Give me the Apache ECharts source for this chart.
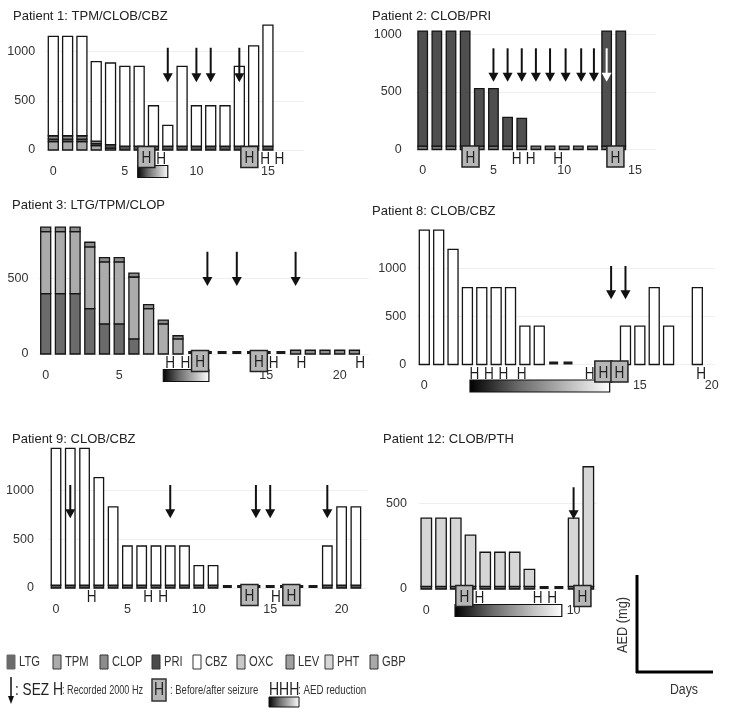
<!DOCTYPE html>
<html><head><meta charset="utf-8">
<script src="https://cdn.jsdelivr.net/npm/echarts@6/dist/echarts.min.js"></script>
<style>html,body{margin:0;padding:0;background:#fff}#c{width:729px;height:709px}</style>
</head><body><div id="c"></div>
<script>
// ================= DATA =================
// Patient 1
const P1_DAYS = [0,1,2,3,4,5,6,7,8,9,10,11,12,13,14,15];
const P1_TPM  = [85,85,85,45,20,null,null,null,null,null,null,null,null,null,null,null];
const P1_CLOB = [25,25,25,20,35,40,40,40,40,40,40,40,40,40,40,40];
const P1_TPM2 = [35,35,35,25,null,null,null,null,null,null,null,null,null,null,null,null];
const P1_CBZ  = [1010,1010,1010,810,830,810,810,410,210,810,410,410,410,810,1020,1230];
const P1_SEZ = [8,10,11,13];
const P1_SEZ_RANGE = [1040,690];
const P1_H = [7.53,14.8,15.8];
const P1_HBOX = [6.5,13.7];
const P1_RED = [5.9,8.0];
const P1_DASH = [];
const P1_XTICKS = [0,5,10,15];
const P1_YTICKS = [0,500,1000];

// Patient 2
const P2_DAYS = [0,1,2,3,4,5,6,7,8,9,10,11,12,13,14];
const P2_CLOB = [30,30,30,30,30,30,30,30,30,30,30,30,30,30,30];
const P2_PRI  = [1000,1000,1000,1000,500,500,250,240,null,null,null,null,null,1000,1000];
const P2_SEZ = [5,6,7,8,9,10.1,11.2,12.1];
const P2_SEZ_WHITE = [13];
const P2_SEZ_RANGE = [880,590];
const P2_H = [6.64,7.63,9.58];
const P2_HBOX = [3.38,13.62];
const P2_RED = [];
const P2_DASH = [];
const P2_XTICKS = [0,5,10,15];
const P2_YTICKS = [0,500,1000];

// Patient 3
const P3_DAYS = [0,1,2,3,4,5,6,7,8,9,10,11,12,13,14,15,16,17,18,19,20,21];
const P3_LTG  = [400,400,400,300,200,200,100,null,null,null,null,null,null,null,null,null,null,null,null,null,null,null];
const P3_TPM  = [410,410,410,410,410,410,410,300,200,100,null,null,null,null,null,null,null,null,null,null,null,null];
const P3_CLOP = [30,30,30,30,28,28,26,27,25,21,null,null,null,null,null,null,null,25,25,25,25,25];
const P3_SEZ = [11,13,17];
const P3_SEZ_RANGE = [677,450];
const P3_H = [8.46,9.5,15.5,17.4,21.4];
const P3_HBOX = [10.5,14.5];
const P3_RED = [8.0,11.1];
const P3_DASH = [10,11,12,13,14,15,16];
const P3_XTICKS = [0,5,10,15,20];
const P3_YTICKS = [0,500];

// Patient 8
const P8_DAYS = [0,1,2,3,4,5,6,7,8,9,10,11,12,13,14,15,16,17,18,19];
const P8_CBZ  = [1400,1400,1200,800,800,800,800,400,400,null,null,null,null,null,400,400,800,400,null,800];
const P8_SEZ = [13,14];
const P8_SEZ_RANGE = [1026,679];
const P8_H = [3.48,4.5,5.5,6.78,11.5,19.26];
const P8_HBOX = [12.46,13.58];
const P8_RED = [3.18,12.9];
const P8_DASH = [9,10];
const P8_XTICKS = [0,5,10,15,20];
const P8_YTICKS = [0,500,1000];

// Patient 9
const P9_DAYS = [0,1,2,3,4,5,6,7,8,9,10,11,12,13,14,15,16,17,18,19,20,21];
const P9_CLOB = [30,30,30,30,30,30,30,30,30,30,30,30,null,null,null,null,null,null,null,30,30,30];
const P9_CBZ  = [1400,1400,1400,1100,800,400,400,400,400,400,200,200,null,null,null,null,null,null,null,400,800,800];
const P9_SEZ = [1,8,14,15,19];
const P9_SEZ_RANGE = [1054,713];
const P9_H = [2.5,6.46,7.51,15.4];
const P9_HBOX = [13.55,16.48];
const P9_RED = [];
const P9_DASH = [12,13,14,15,16,17,18];
const P9_XTICKS = [0,5,10,15,20];
const P9_YTICKS = [0,500,1000];

// Patient 12
const P12_DAYS = [0,1,2,3,4,5,6,7,8,9,10,11];
const P12_CLOB = [15,15,15,15,15,15,15,15,null,null,15,15];
const P12_PHT  = [400,400,400,300,200,200,200,100,null,null,400,700];
const P12_SEZ = [10];
const P12_SEZ_RANGE = [595,408];
const P12_H = [3.6,7.56,8.55];
const P12_HBOX = [2.58,10.6];
const P12_RED = [1.95,9.2];
const P12_DASH = [8,9];
const P12_XTICKS = [0,5,10];
const P12_YTICKS = [0,500];

// Legend
const LEGEND_NAMES = ['LTG','TPM','CLOP','PRI','CBZ','OXC','LEV','PHT','GBP'];
const LEGEND_COLORS = ['#6b6b6b','#ababab','#8c8c8c','#4a4a4a','#ffffff','#c9c9c9','#a0a0a0','#d6d6d6','#a9a9a9'];
const LEGEND_X = [7,53,100,152,193,237,286,325,370];

// ================= STYLE / LAYOUT =================
const FONT = '"Liberation Sans", Arial, sans-serif';
const NX = 0.8; // horizontal condensing for the narrow lettering

const panels = [
  {title:'Patient 1: TPM/CLOB/CBZ', tx:8, ty:5, day0:53.3, ppd:14.31, xmin:-0.5, xmax:17.5, base:150, ppm:0.0983, ymax:1300, bw:10, ylm:11,
   days:P1_DAYS, segs:[[P1_TPM,'#a8a8a8'],[P1_CLOB,'#555555'],[P1_TPM2,'#8c8c8c'],[P1_CBZ,'#ffffff']],
   xt:P1_XTICKS, yt:P1_YTICKS, sez:P1_SEZ, sezW:[], sezR:P1_SEZ_RANGE, h:P1_H, box:P1_HBOX, red:P1_RED, dash:P1_DASH},
  {title:'Patient 2: CLOB/PRI', tx:367, ty:5, day0:422.7, ppd:14.15, xmin:-0.5, xmax:16.5, base:149.5, ppm:0.115, ymax:1150, bw:9.5, ylm:14,
   days:P2_DAYS, segs:[[P2_CLOB,'#7d7d7d'],[P2_PRI,'#4f4f4f']],
   xt:P2_XTICKS, yt:P2_YTICKS, sez:P2_SEZ, sezW:P2_SEZ_WHITE, sezR:P2_SEZ_RANGE, h:P2_H, box:P2_HBOX, red:P2_RED, dash:P2_DASH},
  {title:'Patient 3: LTG/TPM/CLOP', tx:7, ty:194, day0:45.7, ppd:14.7, xmin:-0.5, xmax:22, base:354, ppm:0.151, ymax:900, bw:10, ylm:10,
   days:P3_DAYS, segs:[[P3_LTG,'#6b6b6b'],[P3_TPM,'#ababab'],[P3_CLOP,'#8c8c8c']],
   xt:P3_XTICKS, yt:P3_YTICKS, sez:P3_SEZ, sezW:[], sezR:P3_SEZ_RANGE, h:P3_H, box:P3_HBOX, red:P3_RED, dash:P3_DASH},
  {title:'Patient 8: CLOB/CBZ', tx:367, ty:200, day0:424.3, ppd:14.37, xmin:-0.5, xmax:20.2, base:364.5, ppm:0.096, ymax:1500, bw:10, ylm:11,
   days:P8_DAYS, segs:[[P8_CBZ,'#ffffff']],
   xt:P8_XTICKS, yt:P8_YTICKS, sez:P8_SEZ, sezW:[], sezR:P8_SEZ_RANGE, h:P8_H, box:P8_HBOX, red:P8_RED, dash:P8_DASH},
  {title:'Patient 9: CLOB/CBZ', tx:7, ty:428, day0:56, ppd:14.28, xmin:-0.5, xmax:21.8, base:588, ppm:0.0977, ymax:1500, bw:9.5, ylm:15,
   days:P9_DAYS, segs:[[P9_CLOB,'#5a5a5a'],[P9_CBZ,'#ffffff']],
   xt:P9_XTICKS, yt:P9_YTICKS, sez:P9_SEZ, sezW:[], sezR:P9_SEZ_RANGE, h:P9_H, box:P9_HBOX, red:P9_RED, dash:P9_DASH},
  {title:'Patient 12: CLOB/PTH', tx:378, ty:428, day0:426.3, ppd:14.73, xmin:-0.5, xmax:11.6, base:589, ppm:0.171, ymax:750, bw:10.5, ylm:12,
   days:P12_DAYS, segs:[[P12_CLOB,'#5a5a5a'],[P12_PHT,'#d6d6d6']],
   xt:P12_XTICKS, yt:P12_YTICKS, sez:P12_SEZ, sezW:[], sezR:P12_SEZ_RANGE, h:P12_H, box:P12_HBOX, red:P12_RED, dash:P12_DASH}
];

function barRender(bw, color){
  return function(params, api){
    const x = api.value(0), b = api.value(1), t = api.value(2);
    const p0 = api.coord([x,b]), p1 = api.coord([x,t]);
    return {type:'rect', shape:{x:p0[0]-bw/2, y:p1[1], width:bw, height:p0[1]-p1[1]},
            style:{fill:color, stroke:'#151515', lineWidth:1.3}};
  };
}
function dashRender(params, api){
  const p = api.coord([api.value(0), 0]);
  return {type:'rect', shape:{x:p[0]-4.5, y:p[1]-3, width:9, height:3}, style:{fill:'#1a1a1a'}};
}
function arrowRender(color){
  return function(params, api){
    const x = api.value(0);
    const a = api.coord([x, api.value(1)]), b = api.coord([x, api.value(2)]);
    return {type:'group', children:[
      {type:'line', shape:{x1:a[0], y1:a[1], x2:b[0], y2:b[1]-7}, style:{stroke:color, lineWidth:2}},
      {type:'polygon', shape:{points:[[b[0]-5,b[1]-9],[b[0]+5,b[1]-9],[b[0],b[1]]]}, style:{fill:color}}
    ]};
  };
}
function hRender(params, api){
  const p = api.coord([api.value(0), 0]);
  return {type:'text', x:p[0], y:p[1]+9.5, scaleX:NX, style:{text:'H', fontSize:17, fontFamily:FONT, fill:'#1e1e1e', align:'center', verticalAlign:'middle'}};
}
function boxRender(params, api){
  const p = api.coord([api.value(0), 0]);
  return {type:'group', children:[
    {type:'rect', shape:{x:p[0]-8.5, y:p[1]-3.5, width:17, height:21}, style:{fill:'#b6b6b6', stroke:'#222', lineWidth:1.5}},
    {type:'text', x:p[0], y:p[1]+8.5, scaleX:NX, style:{text:'H', fontSize:17, fontFamily:FONT, fill:'#1e1e1e', align:'center', verticalAlign:'middle'}}
  ]};
}
function gradFill(){
  return new echarts.graphic.LinearGradient(0,0,1,0,[{offset:0,color:'#000'},{offset:0.35,color:'#6a6a6a'},{offset:1,color:'#ffffff'}]);
}
function redRender(params, api){
  const a = api.coord([api.value(0), 0]), b = api.coord([api.value(1), 0]);
  return {type:'rect', shape:{x:a[0], y:a[1]+15.5, width:b[0]-a[0], height:12},
    style:{fill:gradFill(), stroke:'#111', lineWidth:1.2}};
}

const option = {animation:false, title:[], grid:[], xAxis:[], yAxis:[], series:[], graphic:[]};

panels.forEach((p,i)=>{
  option.title.push({text:p.title, left:p.tx, top:p.ty, textStyle:{fontFamily:FONT, fontSize:13, fontWeight:'normal', color:'#222'}});
  option.grid.push({left:p.day0 + p.xmin*p.ppd, top:p.base - p.ymax*p.ppm, width:(p.xmax-p.xmin)*p.ppd, height:p.ymax*p.ppm});
  option.xAxis.push({type:'value', gridIndex:i, min:p.xmin, max:p.xmax,
    axisLine:{show:false}, axisTick:{show:false}, splitLine:{show:false},
    axisLabel:{customValues:p.xt, margin:15, fontFamily:FONT, fontSize:12.5, color:'#333', formatter:v=>String(v)}});
  option.yAxis.push({type:'value', gridIndex:i, min:0, max:p.ymax, interval:500,
    axisLine:{show:false}, axisTick:{show:false},
    splitLine:{show:true, showMaxLine:false, lineStyle:{color:'#efefef', width:1}},
    axisLabel:{customValues:p.yt, margin:p.ylm, fontFamily:FONT, fontSize:12.5, color:'#333', formatter:v=>String(v)}});

  // stacked bar segments
  const segData = p.segs.map(()=>[]);
  p.days.forEach((d,k)=>{
    let base = 0;
    p.segs.forEach((s,j)=>{
      const v = s[0][k];
      if (v != null) { segData[j].push([d, base, base+v]); base += v; }
    });
  });
  p.segs.forEach((s,j)=>{
    option.series.push({type:'custom', xAxisIndex:i, yAxisIndex:i, clip:false, silent:true, z:2,
      renderItem:barRender(p.bw, s[1]), encode:{x:0, y:[1,2]}, data:segData[j]});
  });
  option.series.push({type:'custom', xAxisIndex:i, yAxisIndex:i, clip:false, silent:true, z:3,
    renderItem:dashRender, encode:{x:0,y:1}, data:p.dash.map(d=>[d,0])});
  option.series.push({type:'custom', xAxisIndex:i, yAxisIndex:i, clip:false, silent:true, z:4,
    renderItem:arrowRender('#111'), encode:{x:0,y:[1,2]}, data:p.sez.map(d=>[d,p.sezR[0],p.sezR[1]])});
  option.series.push({type:'custom', xAxisIndex:i, yAxisIndex:i, clip:false, silent:true, z:4,
    renderItem:arrowRender('#ffffff'), encode:{x:0,y:[1,2]}, data:p.sezW.map(d=>[d,p.sezR[0],p.sezR[1]])});
  option.series.push({type:'custom', xAxisIndex:i, yAxisIndex:i, clip:false, silent:true, z:5,
    renderItem:redRender, encode:{x:[0,1]}, data:p.red.length ? [[p.red[0], p.red[1]]] : []});
  option.series.push({type:'custom', xAxisIndex:i, yAxisIndex:i, clip:false, silent:true, z:5,
    renderItem:hRender, encode:{x:0,y:1}, data:p.h.map(d=>[d,0])});
  option.series.push({type:'custom', xAxisIndex:i, yAxisIndex:i, clip:false, silent:true, z:6,
    renderItem:boxRender, encode:{x:0,y:1}, data:p.box.map(d=>[d,0])});
});

// ---- legend (drawn as graphic) ----
const LEG_Y = 662;
LEGEND_NAMES.forEach((n,i)=>{
  const x = LEGEND_X[i];
  option.graphic.push({type:'rect', x:x, y:LEG_Y-7, shape:{x:0, y:0, width:8, height:14},
    style:{fill:LEGEND_COLORS[i], stroke: i===0 ? LEGEND_COLORS[i] : '#333', lineWidth:1}});
  option.graphic.push({type:'text', x:x+12, y:LEG_Y+0.5, scaleX:0.8, style:{text:n, fontSize:14, fontFamily:FONT, fill:'#333', verticalAlign:'middle'}});
});
const R2 = 690;
function gtext(x, y, text, size, extra, sx){
  return {type:'text', x:x, y:y, scaleX:sx || NX, style:Object.assign({text:text, fontSize:size, fontFamily:FONT, fill:'#222', verticalAlign:'middle'}, extra||{})};
}
option.graphic.push(
  {type:'line', shape:{x1:11, y1:677, x2:11, y2:697}, style:{stroke:'#111', lineWidth:1.5}},
  {type:'polygon', shape:{points:[[8,696],[14,696],[11,704]]}, style:{fill:'#111'}},
  gtext(15, R2, ': SEZ', 17),
  gtext(53, R2, 'H', 17.5),
  gtext(62, R2+1, ': Recorded 2000 Hz', 12, {fill:'#333'}, 0.76),
  {type:'rect', shape:{x:152, y:679, width:14, height:22}, style:{fill:'#b6b6b6', stroke:'#333', lineWidth:1.5}},
  gtext(159, R2, 'H', 17.5, {align:'center'}),
  gtext(170, R2+1, ': Before/after seizure', 12.5, {fill:'#333'}, 0.76),
  gtext(269, R2, 'HHH', 17.5),
  gtext(298, R2+1, ': AED reduction', 12.5, {fill:'#333'}, 0.78),
  {type:'rect', shape:{x:269, y:697, width:30, height:10}, style:{fill:gradFill(), stroke:'#111', lineWidth:1}},
  // axis key
  {type:'line', shape:{x1:637, y1:575, x2:637, y2:673}, style:{stroke:'#000', lineWidth:3}},
  {type:'line', shape:{x1:636, y1:672, x2:713, y2:672}, style:{stroke:'#000', lineWidth:3}},
  {type:'text', x:623, y:625, rotation:Math.PI/2, scaleX:0.88, style:{text:'AED (mg)', fontSize:14.5, fontFamily:FONT, fill:'#333', align:'center', verticalAlign:'middle'}},
  {type:'text', x:684, y:690, scaleX:0.88, style:{text:'Days', fontSize:14, fontFamily:FONT, fill:'#333', align:'center', verticalAlign:'middle'}}
);

const chart = echarts.init(document.getElementById('c'), null, {renderer:'canvas'});
chart.setOption(option);
</script>
</body></html>
